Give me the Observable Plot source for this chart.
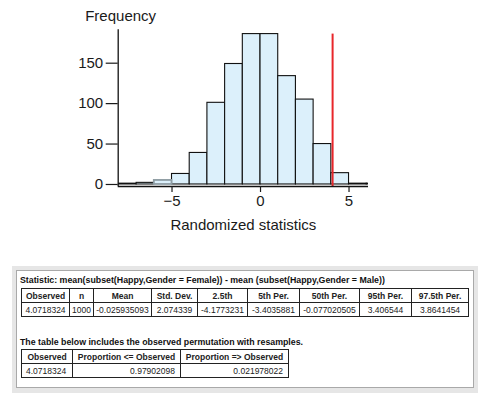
<!DOCTYPE html>
<html><head><meta charset="utf-8">
<script src="https://cdn.jsdelivr.net/npm/d3@7"></script>
<script src="https://cdn.jsdelivr.net/npm/@observablehq/plot@0.6"></script>
<style>
body{margin:0;background:#fff;font-family:"Liberation Sans",Arial,sans-serif;}
#wrap{position:relative;width:490px;height:398px;overflow:hidden;background:#fff}
#chart{position:absolute;left:0;top:0}
#panel{position:absolute;left:12px;top:266px;width:466px;height:127px;background:#e6e6e6}
#inner{position:absolute;left:4px;top:4px;width:458px;height:118px;background:#fff;border:1px solid #a9a9a9;box-sizing:border-box}
.cap{position:absolute;font-weight:bold;font-size:8.8px;line-height:10px;white-space:nowrap;color:#111;left:3px}
table{position:absolute;left:4px;border-collapse:collapse;table-layout:fixed;font-size:8.5px;color:#222}
td,th{border:1px solid #222;padding:0 2px;white-space:nowrap;overflow:hidden;line-height:10px}
tr{height:14px}
th{font-weight:bold;text-align:center}
#t1 td{text-align:center}
#t2 td{text-align:right;padding-right:5px}
#t2 td:first-child{text-align:left;padding-left:4px}
</style></head>
<body>
<div id="wrap">
  <div id="chart"></div>
  <div id="panel"><div id="inner">
    <div class="cap" id="cap1" style="top:4px"></div>
    <table id="t1" style="top:17px;width:447px"></table>
    <div class="cap" id="cap2" style="top:66px"></div>
    <table id="t2" style="top:78px;width:267px"></table>
  </div></div>
</div>
<script>
// ---- histogram data ----
const binEdges = [-8,-7,-6,-5,-4,-3,-2,-1,0,1,2,3,4,5,6,7];
const counts   = [1,2,5,13,39,101,149,186,186,134,105,50,14,1,1];
const highlightBin = -6;           // bin shown with grey outline
const observed = 4.0718324;
const xTicks = [-5,0,5];
const yTicks = [0,50,100,150];
const xDomain = [-8.04, 6.1];
const yDomain = [-2.5, 191.3];
const xLabel = "Randomized statistics";
const yLabel = "Frequency";

// ---- table data ----
const caption1 = "Statistic: mean(subset(Happy,Gender = Female)) - mean (subset(Happy,Gender = Male))";
const t1Headers = ["Observed","n","Mean","Std. Dev.","2.5th","5th Per.","50th Per.","95th Per.","97.5th Per."];
const t1Values  = ["4.0718324","1000","-0.025935093","2.074339","-4.1773231","-3.4035881","-0.077020505","3.406544","3.8641454"];
const t1Widths  = [48,24,58,46,50,52,60,52,57];
const caption2 = "The table below includes the observed permutation with resamples.";
const t2Headers = ["Observed","Proportion <= Observed","Proportion => Observed"];
const t2Values  = ["4.0718324","0.97902098","0.021978022"];
const t2Widths  = [51,108,108];

const bins = counts.map((c,i)=>({x1: binEdges[i], x2: binEdges[i+1], count: c}));
const font = '"Liberation Sans", Arial, sans-serif';

const chart = Plot.plot({
  width: 490, height: 240,
  marginLeft: 117.7, marginRight: 122, marginTop: 29.3, marginBottom: 54,
  style: {fontFamily: font, fontSize: "15px", color: "#1a1a1a", background: "white"},
  x: {domain: xDomain},
  y: {domain: yDomain},
  marks: [
    Plot.rect(bins.filter(d=>d.x1!==highlightBin), {x1:"x1", x2:"x2", y1:0, y2:"count", fill:"#dcf0fb", stroke:"#111", strokeWidth:1.1, clip:true}),
    Plot.rect(bins.filter(d=>d.x1===highlightBin), {x1:"x1", x2:"x2", y1:0, y2:"count", fill:"#dcf0fb", stroke:"#8e9ca3", strokeWidth:1.8, clip:true}),
    Plot.ruleX([observed], {y1: yDomain[0], y2: d3.max(counts), stroke:"#e8262a", strokeWidth:2}),
    Plot.ruleX([xDomain[0]], {y1: yDomain[0], y2: yDomain[1], stroke:"#111", strokeWidth:1.3}),
    Plot.ruleY([yDomain[0]], {x1: xDomain[0], x2: xDomain[1], stroke:"#111", strokeWidth:1.3}),
    Plot.axisY({ticks: yTicks, tickSize: 12, tickPadding: 3, label: null, strokeWidth: 1.2}),
    Plot.text([yLabel], {text: d=>d, frameAnchor: "top-left", textAnchor: "start", lineAnchor: "middle", dx: -33, dy: -13.4, fontSize: 15, fill: "#1a1a1a"}),
    Plot.axisX({ticks: xTicks, tickSize: 6, tickPadding: 3, label: xLabel, labelAnchor: "center", labelArrow: "none", labelOffset: 43, strokeWidth: 1.2})
  ]
});
document.getElementById("chart").append(chart);

function buildTable(el, headers, values, widths){
  const cg = document.createElement("colgroup");
  widths.forEach(w=>{const c=document.createElement("col"); c.style.width=w+"px"; cg.append(c);});
  el.append(cg);
  const h = document.createElement("tr");
  headers.forEach(t=>{const th=document.createElement("th"); th.textContent=t; h.append(th);});
  const r = document.createElement("tr");
  values.forEach(t=>{const td=document.createElement("td"); td.textContent=t; r.append(td);});
  el.append(h, r);
}
document.getElementById("cap1").textContent = caption1;
document.getElementById("cap2").textContent = caption2;
buildTable(document.getElementById("t1"), t1Headers, t1Values, t1Widths);
buildTable(document.getElementById("t2"), t2Headers, t2Values, t2Widths);
</script>
</body></html>
